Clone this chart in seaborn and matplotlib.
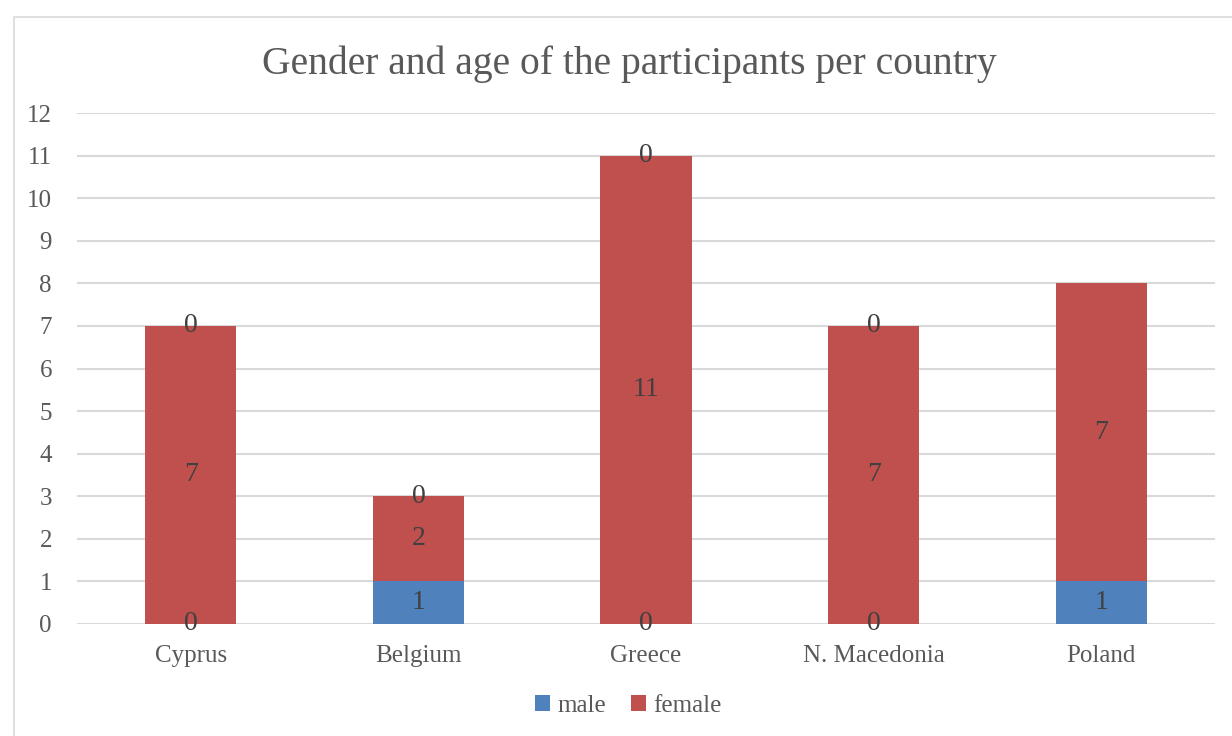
import numpy as np
import pandas as pd
import matplotlib.pyplot as plt
import seaborn as sns
from matplotlib.patches import Rectangle

countries = ["Cyprus", "Belgium", "Greece", "N. Macedonia", "Poland"]
male = [0, 1, 0, 0, 1]
female = [7, 2, 11, 7, 7]
age = [0, 0, 0, 0, np.nan]  # no label shown for Poland

sns.set_style("white")
plt.rcParams["font.family"] = ["Liberation Serif", "DejaVu Serif"]
text_color = "#595959"

df = pd.DataFrame({"country": countries, "male": male, "female": female,
                   "age": pd.Series(age).fillna(0)})
base_female = np.array(male)
base_age = np.array(male) + np.array(female)

fig = plt.figure(figsize=(12.32, 7.36), dpi=100)
ax = fig.add_axes([77 / 1232, 1 - 624 / 736, (1215 - 77) / 1232, (624 - 113) / 736])

sns.barplot(data=df, x="country", y="male", color="#4f81bd", width=0.4,
            saturation=1, ax=ax, label="male", linewidth=0)
sns.barplot(data=df, x="country", y="female", color="#c0504d", width=0.4,
            saturation=1, ax=ax, bottom=base_female, label="female", linewidth=0)
sns.barplot(data=df, x="country", y="age", color="#c0504d", width=0.4,
            saturation=1, ax=ax, bottom=base_age, linewidth=0)

series = [male, female, age]
for cont, vals in zip(ax.containers, series):
    labs = ["" if np.isnan(v) else f"{v:g}" for v in np.asarray(vals, dtype=float)]
    ax.bar_label(cont, labels=labs, label_type="center", fontsize=20, color="#404040")

handles, labels = ax.get_legend_handles_labels()
if ax.get_legend() is not None:
    ax.get_legend().remove()

ax.set_ylim(0, 12)
ax.set_xlim(-0.5, 4.5)
ax.set_yticks(range(0, 13))
ax.yaxis.grid(True, color="#d9d9d9", linewidth=1.5)
ax.set_axisbelow(True)
for s in ax.spines.values():
    s.set_visible(False)
ax.tick_params(axis="both", length=0, labelsize=18, labelcolor=text_color)
ax.tick_params(axis="y", pad=18)
ax.tick_params(axis="x", pad=15)
ax.set_xlabel("")
ax.set_ylabel("")

fig.legend(handles[:2], labels[:2], loc="center", bbox_to_anchor=(0.51, 1 - 706 / 736),
           ncol=2, frameon=False, fontsize=18, labelcolor=text_color,
           handlelength=0.6, handleheight=0.6, handletextpad=0.3, columnspacing=1.0)

fig.text(0.511, 1 - 64 / 736, "Gender and age of the participants per country",
         ha="center", va="center", fontsize=28.5, color=text_color)

fig.patches.append(Rectangle((14 / 1232, -0.1), 1.2, 1 - 17 / 736 + 0.1,
                             transform=fig.transFigure, fill=False,
                             edgecolor="#d9d9d9", linewidth=1.2))

fig.savefig("out.png", dpi=100)
